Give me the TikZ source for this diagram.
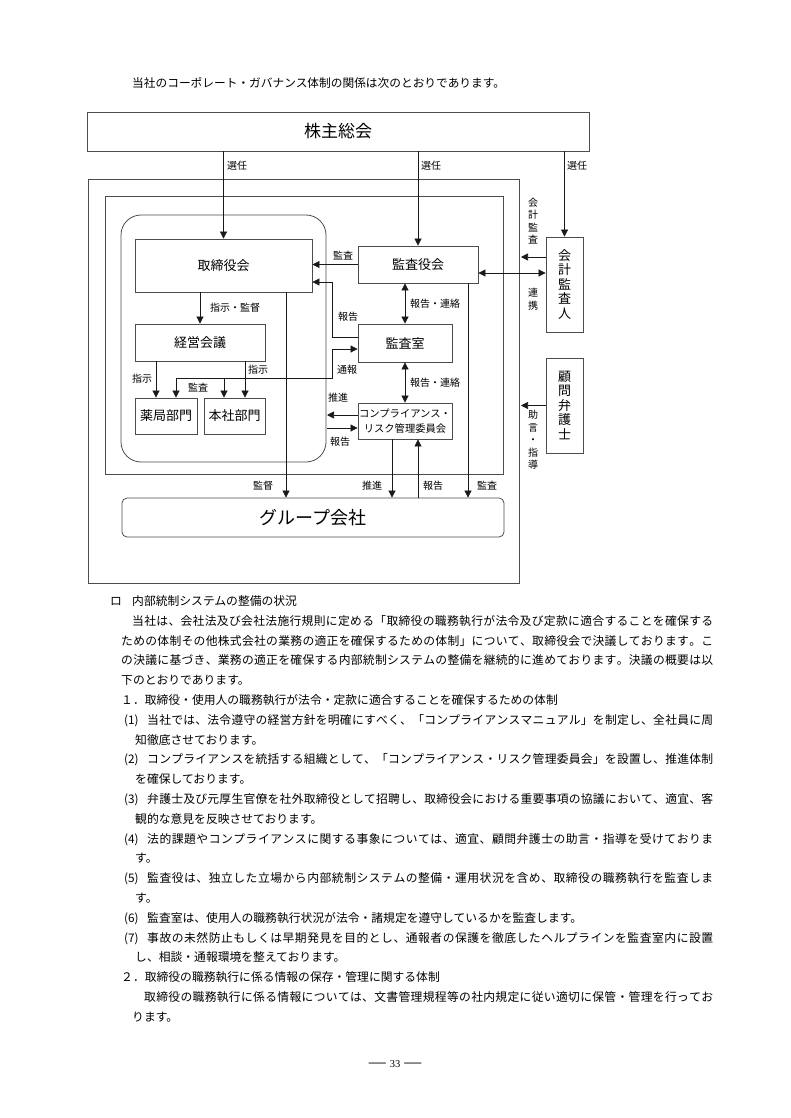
\documentclass[tikz,border=0pt]{standalone}
\usepackage{fontspec}
\setmainfont{Noto Sans CJK JP}
\newfontfamily\pgfont{Liberation Serif}
\usetikzlibrary{arrows.meta}
\def\jsA#1{\ifx#1\relax\else#1\expandafter\jsB\fi}
\def\jsB#1{\ifx#1\relax\else\hfil#1\expandafter\jsB\fi}
\newcommand\jjline[2]{\hbox to #1{\jsA#2\relax}}
\tikzset{
  frame/.style={draw=black!70, line width=0.8pt},
  box/.style={draw=black!70, line width=0.8pt, inner sep=0pt, align=center},
  arr/.style={draw=black!90, line width=0.7pt, -{Triangle[length=7pt,width=7pt]}},
  darr/.style={draw=black!90, line width=0.7pt, {Triangle[length=7pt,width=7pt]}-{Triangle[length=7pt,width=7pt]}},
  lab/.style={anchor=west, inner sep=0pt, font=\fontsize{10}{12}\selectfont},
  vlab/.style={inner sep=0pt, align=center, font=\fontsize{10}{12.5}\selectfont},
  body/.style={anchor=base west, inner sep=0pt, font=\fontsize{11.8}{14}\selectfont},
}
\begin{document}
\begin{tikzpicture}[x=1pt,y=-1pt]
\useasboundingbox[fill=white] (0,0) rectangle (790,1118);

% title
\node[body, font=\fontsize{11.7}{14}\selectfont] (title) at (132,87.5) {当社のコーポレート・ガバナンス体制の関係は次のとおりであります。};

% frames
\draw[frame] (88,179) rectangle (519,583);
\draw[frame] (105,196) rectangle (503,474);
\draw[frame, rounded corners=20pt] (121,215) rectangle (326,462);
\coordinate (cR) at (327,0);
\coordinate (oR) at (521,0);

% boxes
\node[box, minimum width=502pt, minimum height=39pt, font=\fontsize{17}{20}\selectfont] (sh) at (338,131.5) {株主総会};
\node[box, minimum width=177pt, minimum height=53pt, font=\fontsize{13}{15}\selectfont] (tori) at (223.5,265.5) {取締役会};
\node[box, minimum width=130pt, minimum height=37pt, font=\fontsize{13}{15}\selectfont] (keiei) at (200,342.5) {経営会議};
\node[box, minimum width=62pt, minimum height=36pt, font=\fontsize{13}{15}\selectfont] (yak) at (166,416) {薬局部門};
\node[box, minimum width=61pt, minimum height=36pt, font=\fontsize{13}{15}\selectfont] (hon) at (234.5,416) {本社部門};
\node[box, minimum width=120pt, minimum height=37pt, font=\fontsize{13}{15}\selectfont] (ksy) at (418,264.5) {監査役会};
\node[box, minimum width=94pt, minimum height=38pt, font=\fontsize{13}{15}\selectfont] (kss) at (405,343) {監査室};
\node[box, minimum width=94pt, minimum height=36pt, font=\fontsize{10.3}{15}\selectfont] (comp) at (405,421) {コンプライアンス・\\リスク管理委員会};
\node[box, rounded corners=5pt, minimum width=382pt, minimum height=39pt, font=\fontsize{18}{20}\selectfont] (grp) at (313,517.5) {グループ会社};
\node[box, minimum width=37pt, minimum height=95pt, font=\fontsize{13}{14.5}\selectfont] (kai) at (564.5,284.5) {会\\計\\監\\査\\人};
\node[box, minimum width=37pt, minimum height=95pt, font=\fontsize{13}{14.5}\selectfont] (kom) at (564.5,405.5) {顧\\問\\弁\\護\\士};

% helper coordinates
\coordinate (yk1) at ([xshift=-10pt]yak.north);
\coordinate (yk2) at ([xshift=10pt]yak.north);
\coordinate (hn1) at ([xshift=-10.5pt]hon.north);
\coordinate (hn2) at ([xshift=10.5pt]hon.north);
\coordinate (g1) at ([xshift=-27pt]grp.north);

% election arrows
\draw[arr] (sh.south -| tori.north) -- (tori.north);
\draw[arr] (sh.south -| ksy.north) -- (ksy.north);
\draw[arr] (sh.south -| kai.north) -- (kai.north);
\node[lab] (s1) at (227,166) {選任};
\node[lab] (s2) at (421,166) {選任};
\node[lab] (s3) at (567,166) {選任};

% board
\draw[arr] (tori.south -| keiei.north) -- (keiei.north);
\node[lab] (l1) at (210,308) {指示・監督};
\draw[arr] (keiei.south -| yk1) -- (yk1);
\draw[arr] (keiei.south -| hn2) -- (hn2);
\node[lab] (l2) at (132,379) {指示};
\node[lab] (l3) at (248,370) {指示};
\draw[arr] (tori.south -| g1) -- (g1);
\node[lab] (l4) at (253,486) {監督};

% audit board
\draw[arr] (ksy.west) -- (ksy.west -| tori.east);
\node[lab] (l5) at (333,256) {監査};
\draw[arr] ([yshift=6pt]kss.west) -- ++(-25,0) |- ([yshift=-16.5pt]tori.east);
\node[lab] (l6) at (338,317) {報告};
\draw[darr] ([xshift=-13pt]ksy.south) -- (kss.north);
\node[lab] (l7) at (410,304) {報告・連絡};
\draw[darr] (kss.south) -- (comp.north);
\node[lab] (l8) at (410,383) {報告・連絡};

% whistle / audit line
\draw[darr] ([yshift=-6pt]kss.west) -- ++(-25,0) -- ++(0,29) -| (yk2);
\draw[arr] (hn1 |- 0,378.5) -- (hn1);
\node[lab] (l9) at (337,370) {通報};
\node[lab] (l10) at (188,388) {監査};

% compliance
\draw[arr] ([yshift=6pt]comp.west) -- ([yshift=6pt]comp.west -| cR);
\draw[arr] ([yshift=-7pt]comp.west -| cR) -- ([yshift=-7pt]comp.west);
\node[lab] (l11) at (328,398) {推進};
\node[lab] (l12) at (330,442) {報告};
\draw[arr] ([xshift=-13pt]comp.south) -- ([xshift=-13pt]comp.south |- grp.north);
\draw[arr] ([xshift=13pt]comp.south |- grp.north) -- ([xshift=13pt]comp.south);
\node[lab] (l13) at (362,486) {推進};
\node[lab] (l14) at (423,486) {報告};
\draw[arr] ([xshift=50pt]ksy.south) -- ([xshift=50pt]ksy.south |- grp.north);
\node[lab] (l15) at (477,486) {監査};

% right side
\draw[darr] ([yshift=-8.5pt]ksy.east) -- ([yshift=-8.5pt]ksy.east -| kai.west);
\draw[arr] ([yshift=27.5pt]kai.west) -- ([yshift=27.5pt]kai.west -| oR);
\draw[arr] (kom.west) -- (kom.west -| oR);
\node[vlab] (v1) at (533,221) {会\\計\\監\\査};
\node[vlab] (v2) at (533,299) {連\\携};
\node[vlab] (v3) at (533,440) {助\\言\\・\\指\\導};

% body text
\node[body] (t0a) at (110,605.5) {ロ};
\node[body] (t0b) at (132,605.5) {内部統制システムの整備の状況};
\node[body] (t1) at (132,625.3) {\jjline{581pt}{当社は、会社法及び会社法施行規則に定める「取締役の職務執行が法令及び定款に適合することを確保する}};
\node[body] (t2) at (121,645.1) {\jjline{592pt}{ための体制その他株式会社の業務の適正を確保するための体制」について、取締役会で決議しております。こ}};
\node[body] (t3) at (121,664.9) {\jjline{592pt}{の決議に基づき、業務の適正を確保する内部統制システムの整備を継続的に進めております。決議の概要は以}};
\node[body] (t4) at (121,684.7) {下のとおりであります。};
\node[body] (t5) at (121,704.5) {１．取締役・使用人の職務執行が法令・定款に適合することを確保するための体制};
\node[body] (t6n) at (124,724.3) {(1)};
\node[body] (t6) at (147,724.3) {\jjline{566pt}{当社では、法令遵守の経営方針を明確にすべく、「コンプライアンスマニュアル」を制定し、全社員に周}};
\node[body] (t7) at (135,744.1) {知徹底させております。};
\node[body] (t8n) at (124,763.9) {(2)};
\node[body] (t8) at (147,763.9) {\jjline{566pt}{コンプライアンスを統括する組織として、「コンプライアンス・リスク管理委員会」を設置し、推進体制}};
\node[body] (t9) at (135,783.7) {を確保しております。};
\node[body] (t10n) at (124,803.5) {(3)};
\node[body] (t10) at (147,803.5) {\jjline{566pt}{弁護士及び元厚生官僚を社外取締役として招聘し、取締役会における重要事項の協議において、適宜、客}};
\node[body] (t11) at (135,823.3) {観的な意見を反映させております。};
\node[body] (t12n) at (124,843.1) {(4)};
\node[body] (t12) at (147,843.1) {\jjline{566pt}{法的課題やコンプライアンスに関する事象については、適宜、顧問弁護士の助言・指導を受けておりま}};
\node[body] (t13) at (135,862.9) {す。};
\node[body] (t14n) at (124,882.7) {(5)};
\node[body] (t14) at (147,882.7) {\jjline{566pt}{監査役は、独立した立場から内部統制システムの整備・運用状況を含め、取締役の職務執行を監査しま}};
\node[body] (t15) at (135,902.5) {す。};
\node[body] (t16n) at (124,922.3) {(6)};
\node[body] (t16) at (147,922.3) {監査室は、使用人の職務執行状況が法令・諸規定を遵守しているかを監査します。};
\node[body] (t17n) at (124,942.1) {(7)};
\node[body] (t17) at (147,942.1) {\jjline{566pt}{事故の未然防止もしくは早期発見を目的とし、通報者の保護を徹底したヘルプラインを監査室内に設置}};
\node[body] (t18) at (135,961.9) {し、相談・通報環境を整えております。};
\node[body] (t19) at (121,981.7) {２．取締役の職務執行に係る情報の保存・管理に関する体制};
\node[body] (t20) at (144,1001.5) {\jjline{569pt}{取締役の職務執行に係る情報については、文書管理規程等の社内規定に従い適切に保管・管理を行ってお}};
\node[body] (t21) at (132,1021.3) {ります。};

% page number
\node[inner sep=0pt, anchor=base] (pg) at (395,1067) {\pgfont\fontsize{17}{18}\selectfont —\hspace{4pt}\fontsize{10.5}{12}\selectfont 33\hspace{4pt}\fontsize{17}{18}\selectfont —};
\end{tikzpicture}
\end{document}
